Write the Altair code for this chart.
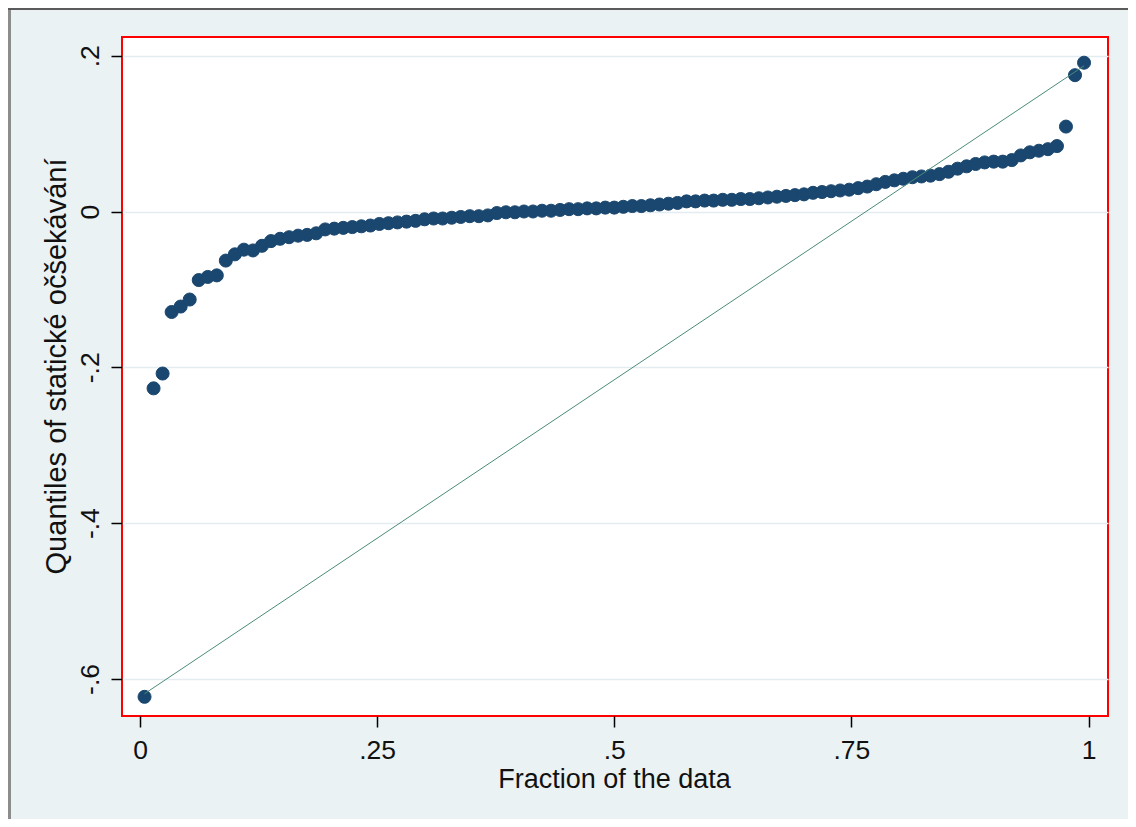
import altair as alt
import pandas as pd

# Quantile plot data (sorted values)
values = [
    -0.623, -0.227, -0.208, -0.129, -0.122, -0.113, -0.088, -0.084, -0.082, -0.063,
    -0.055, -0.049, -0.050, -0.044, -0.038, -0.035, -0.033, -0.031, -0.030, -0.028,
    -0.023, -0.022, -0.021, -0.020, -0.019, -0.018, -0.016, -0.015, -0.014, -0.013,
    -0.012, -0.010, -0.009, -0.009, -0.008, -0.007, -0.006, -0.006, -0.005, -0.002,
    -0.001, -0.001, 0.000, 0.000, 0.001, 0.001, 0.002, 0.003, 0.003, 0.004,
    0.004, 0.005, 0.005, 0.006, 0.007, 0.007, 0.008, 0.009, 0.010, 0.011,
    0.013, 0.013, 0.014, 0.014, 0.015, 0.015, 0.016, 0.016, 0.017, 0.018,
    0.019, 0.020, 0.021, 0.022, 0.024, 0.025, 0.026, 0.027, 0.028, 0.030,
    0.032, 0.035, 0.038, 0.040, 0.042, 0.044, 0.045, 0.046, 0.048, 0.051,
    0.055, 0.058, 0.061, 0.063, 0.064, 0.064, 0.066, 0.072, 0.076, 0.078,
    0.080, 0.084, 0.109, 0.175, 0.191,
]
n = len(values)
fractions = [(i + 0.5) / n for i in range(n)]

# Reference line end points
line_x = [fractions[0], fractions[-1]]
line_y = [-0.619, 0.187]

x_ticks = [0, 0.25, 0.5, 0.75, 1]
y_ticks = [-0.6, -0.4, -0.2, 0, 0.2]

pts_df = pd.DataFrame({"x": fractions, "y": values})
line_df = pd.DataFrame({"x": line_x, "y": line_y})

FONT = "Liberation Sans"
label_expr = "replace(toString(datum.value), '0.', '.')"

xscale = alt.Scale(domain=[-0.019, 1.0205], nice=False, zero=False)
yscale = alt.Scale(domain=[-0.6476, 0.224], nice=False, zero=False)

x_axis = alt.Axis(
    values=x_ticks, labelExpr=label_expr, grid=False, domain=False,
    tickSize=11, tickWidth=1.5, tickColor="#000000",
    labelFont=FONT, labelFontSize=26.5, labelColor="#111111",
    labelBaseline="alphabetic", labelPadding=31, labelFlush=False, labelOverlap=False,
    title="Fraction of the data", titleFont=FONT, titleFontSize=27,
    titleFontWeight="normal", titleColor="#111111",
    titleBaseline="alphabetic", titleAlign="center", titleX=492, titleY=71,
)
y_axis = alt.Axis(
    values=y_ticks, labelExpr=label_expr, grid=True, gridColor="#e3ecf0", gridWidth=1.5,
    domain=False, tickSize=11, tickWidth=1.5, tickColor="#000000",
    labelFont=FONT, labelFontSize=26.5, labelColor="#111111",
    labelAngle=270, labelAlign="center", labelBaseline="alphabetic",
    labelPadding=13, labelFlush=False, labelOverlap=False,
    title="Quantiles of statické očšekávání", titleFont=FONT, titleFontSize=29,
    titleFontWeight="normal", titleColor="#111111",
    titleAngle=270, titleAlign="center", titleBaseline="alphabetic",
    titleX=-57, titleY=329,
)

points = alt.Chart(pts_df).mark_circle(
    size=170, color="#1a476f", opacity=1, stroke="#1a476f", strokeWidth=1
).encode(
    x=alt.X("x:Q", scale=xscale, axis=x_axis),
    y=alt.Y("y:Q", scale=yscale, axis=y_axis),
)
ref_line = alt.Chart(line_df).mark_line(color="#4a8b7b", strokeWidth=1).encode(
    x=alt.X("x:Q", scale=xscale),
    y=alt.Y("y:Q", scale=yscale),
)

one = pd.DataFrame({"k": [0]})
left_edge = alt.Chart(one).mark_rule(color="#8c8c8c", strokeWidth=3).encode(
    x=alt.value(-112.5), y=alt.value(-29), y2=alt.value(782)
)
top_edge = alt.Chart(one).mark_rule(color="#5a5a5a", strokeWidth=2).encode(
    x=alt.value(-114), x2=alt.value(1006), y=alt.value(-28)
)

chart = alt.layer(points, ref_line, left_edge, top_edge).properties(
    width=986,
    height=679,
    padding={"left": 114, "top": 29, "right": 20, "bottom": 103},
    autosize=alt.AutoSizeParams(type="none"),
    background="#eaf2f3",
).configure_view(
    stroke="#ff0000", strokeWidth=2, fill="#ffffff"
)

chart.save("out.html", embed_options={"renderer": "svg", "actions": False})
